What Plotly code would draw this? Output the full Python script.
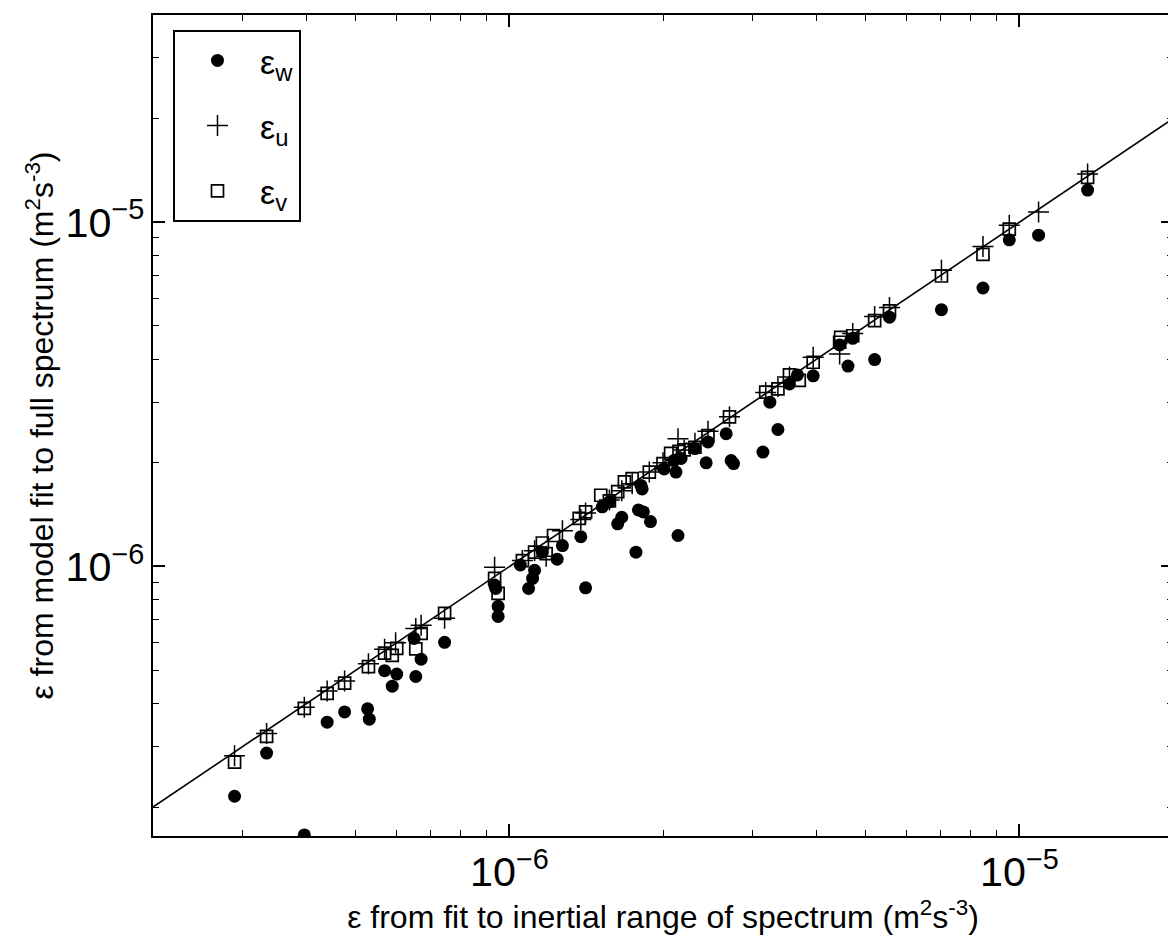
import plotly.graph_objects as go

# epsilon_w (dots)
w_x = [2.89e-7, 3.34e-7, 3.96e-7, 4.39e-7, 4.75e-7, 5.27e-7, 5.31e-7, 5.69e-7, 5.89e-7, 6.01e-7,
       6.55e-7, 6.50e-7, 6.71e-7, 7.46e-7, 9.35e-7, 9.40e-7, 9.50e-7, 9.50e-7, 1.05e-6, 1.09e-6,
       1.12e-6, 1.11e-6, 1.16e-6, 1.24e-6, 1.27e-6, 1.38e-6, 1.41e-6, 1.52e-6, 1.57e-6, 1.63e-6,
       1.66e-6, 1.81e-6, 1.82e-6, 1.79e-6, 1.83e-6, 1.77e-6, 1.89e-6, 2.01e-6, 2.10e-6, 2.12e-6,
       2.17e-6, 2.14e-6, 2.31e-6, 2.43e-6, 2.45e-6, 2.66e-6, 2.72e-6, 2.75e-6, 3.14e-6, 3.24e-6,
       3.36e-6, 3.54e-6, 3.67e-6, 3.94e-6, 4.44e-6, 4.61e-6, 4.71e-6, 5.20e-6, 5.56e-6, 7.03e-6,
       8.48e-6, 9.55e-6, 1.09e-5, 1.36e-5]
w_y = [2.15e-7, 2.87e-7, 1.66e-7, 3.53e-7, 3.78e-7, 3.86e-7, 3.60e-7, 4.98e-7, 4.49e-7, 4.87e-7,
       4.79e-7, 6.18e-7, 5.38e-7, 6.02e-7, 8.83e-7, 8.63e-7, 7.66e-7, 7.16e-7, 1.01e-6, 8.63e-7,
       9.75e-7, 9.23e-7, 1.10e-6, 1.05e-6, 1.15e-6, 1.22e-6, 8.67e-7, 1.49e-6, 1.54e-6, 1.33e-6,
       1.39e-6, 1.72e-6, 1.68e-6, 1.46e-6, 1.44e-6, 1.10e-6, 1.35e-6, 1.92e-6, 2.03e-6, 1.88e-6,
       2.06e-6, 1.23e-6, 2.20e-6, 2.00e-6, 2.30e-6, 2.43e-6, 2.03e-6, 1.99e-6, 2.15e-6, 3.00e-6,
       2.50e-6, 3.39e-6, 3.60e-6, 3.58e-6, 4.40e-6, 3.82e-6, 4.60e-6, 3.99e-6, 5.30e-6, 5.57e-6,
       6.44e-6, 8.89e-6, 9.17e-6, 1.24e-5]

# epsilon_u (plus)
u_x = [2.89e-7, 3.34e-7, 3.96e-7, 4.39e-7, 4.75e-7, 5.29e-7, 5.69e-7, 5.98e-7, 6.55e-7, 6.71e-7,
       7.46e-7, 9.35e-7, 1.06e-6, 1.12e-6, 1.18e-6, 1.27e-6, 1.38e-6, 1.41e-6, 1.57e-6, 1.66e-6,
       1.74e-6, 1.88e-6, 2.00e-6, 2.14e-6, 2.20e-6, 2.31e-6, 2.45e-6, 2.70e-6, 3.18e-6, 3.36e-6,
       3.54e-6, 3.94e-6, 4.44e-6, 4.71e-6, 5.20e-6, 5.56e-6, 7.03e-6, 8.48e-6, 9.55e-6, 1.09e-5,
       1.36e-5]
u_y = [2.82e-7, 3.27e-7, 3.90e-7, 4.35e-7, 4.65e-7, 5.22e-7, 5.75e-7, 6.00e-7, 6.60e-7, 6.75e-7,
       7.07e-7, 9.95e-7, 1.04e-6, 1.11e-6, 1.07e-6, 1.27e-6, 1.37e-6, 1.43e-6, 1.56e-6, 1.66e-6,
       1.74e-6, 1.88e-6, 2.00e-6, 2.35e-6, 2.18e-6, 2.28e-6, 2.47e-6, 2.72e-6, 3.20e-6, 3.33e-6,
       3.55e-6, 4.05e-6, 4.14e-6, 4.75e-6, 5.32e-6, 5.65e-6, 7.25e-6, 8.50e-6, 9.80e-6, 1.07e-5,
       1.38e-5]

# epsilon_v (open squares)
v_x = [2.89e-7, 3.34e-7, 3.96e-7, 4.39e-7, 4.75e-7, 5.29e-7, 5.69e-7, 5.89e-7, 6.01e-7, 6.55e-7,
       6.71e-7, 7.46e-7, 9.35e-7, 9.50e-7, 1.06e-6, 1.12e-6, 1.16e-6, 1.18e-6, 1.22e-6, 1.37e-6,
       1.41e-6, 1.51e-6, 1.57e-6, 1.63e-6, 1.68e-6, 1.74e-6, 1.88e-6, 2.00e-6, 2.07e-6, 2.15e-6,
       2.20e-6, 2.31e-6, 2.45e-6, 2.70e-6, 3.18e-6, 3.36e-6, 3.54e-6, 3.70e-6, 3.94e-6, 4.44e-6,
       4.46e-6, 4.71e-6, 5.20e-6, 5.56e-6, 7.03e-6, 8.48e-6, 9.55e-6, 1.36e-5]
v_y = [2.70e-7, 3.21e-7, 3.87e-7, 4.28e-7, 4.58e-7, 5.12e-7, 5.60e-7, 5.52e-7, 5.78e-7, 5.76e-7,
       6.39e-7, 7.31e-7, 9.23e-7, 8.35e-7, 1.04e-6, 1.10e-6, 1.17e-6, 1.09e-6, 1.23e-6, 1.38e-6,
       1.44e-6, 1.61e-6, 1.55e-6, 1.65e-6, 1.76e-6, 1.80e-6, 1.88e-6, 1.99e-6, 2.13e-6, 2.16e-6,
       2.18e-6, 2.22e-6, 2.40e-6, 2.72e-6, 3.21e-6, 3.28e-6, 3.60e-6, 3.47e-6, 3.92e-6, 4.48e-6,
       4.63e-6, 4.68e-6, 5.18e-6, 5.53e-6, 6.98e-6, 8.07e-6, 9.55e-6, 1.35e-5]

# 1:1 reference line
line_x = [1e-7, 1e-4]
line_y = [1e-7, 1e-4]

FONT = "Liberation Sans, Arial, Helvetica, sans-serif"

fig = go.Figure()
fig.add_trace(go.Scatter(x=line_x, y=line_y, mode="lines", line=dict(color="black", width=1.6),
                         showlegend=False, hoverinfo="skip"))
fig.add_trace(go.Scatter(x=w_x, y=w_y, mode="markers", name="ε<sub>w</sub>", legendgroup="w",
                         marker=dict(symbol="circle", size=13, color="black")))
fig.add_trace(go.Scatter(x=u_x, y=u_y, mode="markers", name="ε<sub>u</sub>", legendgroup="u",
                         marker=dict(symbol="cross-thin", size=15, color="black",
                                     line=dict(color="black", width=1.5))))
fig.add_trace(go.Scatter(x=v_x, y=v_y, mode="markers", name="ε<sub>v</sub>", legendgroup="v",
                         marker=dict(symbol="square-open", size=12, color="black",
                                     line=dict(color="black", width=1.7))))

axis_common = dict(
    type="log", showgrid=False, zeroline=False, showline=True, linecolor="black", linewidth=2.2,
    mirror="allticks", ticks="inside", ticklen=12, tickwidth=1.6, tickcolor="black",
    dtick=1, exponentformat="power",
    tickfont=dict(family=FONT, size=33, color="black"),
    minor=dict(ticks="inside", ticklen=6, tickwidth=1.3, tickcolor="black", showgrid=False),
)

fig.update_layout(
    width=1176, height=941,
    margin=dict(l=145, r=11, t=5, b=113),
    paper_bgcolor="white", plot_bgcolor="white",
    showlegend=True,
    legend=dict(x=0.0196, y=0.982, xanchor="left", yanchor="top",
                bordercolor="black", borderwidth=2, bgcolor="white",
                font=dict(family=FONT, size=34, color="black"),
                tracegroupgap=18, itemwidth=75),
    xaxis=dict(axis_common, range=[-6.699, -4.699],
               title=dict(text="ε from fit to inertial range of spectrum (m<sup>2</sup>s<sup>-3</sup>)",
                          font=dict(family=FONT, size=32, color="black"), standoff=0)),
    yaxis=dict(axis_common, range=[-6.783, -4.398],
               title=dict(text="ε from model fit to full spectrum (m<sup>2</sup>s<sup>-3</sup>)",
                          font=dict(family=FONT, size=32, color="black"), standoff=2)),
)

fig.write_html("out.html")
